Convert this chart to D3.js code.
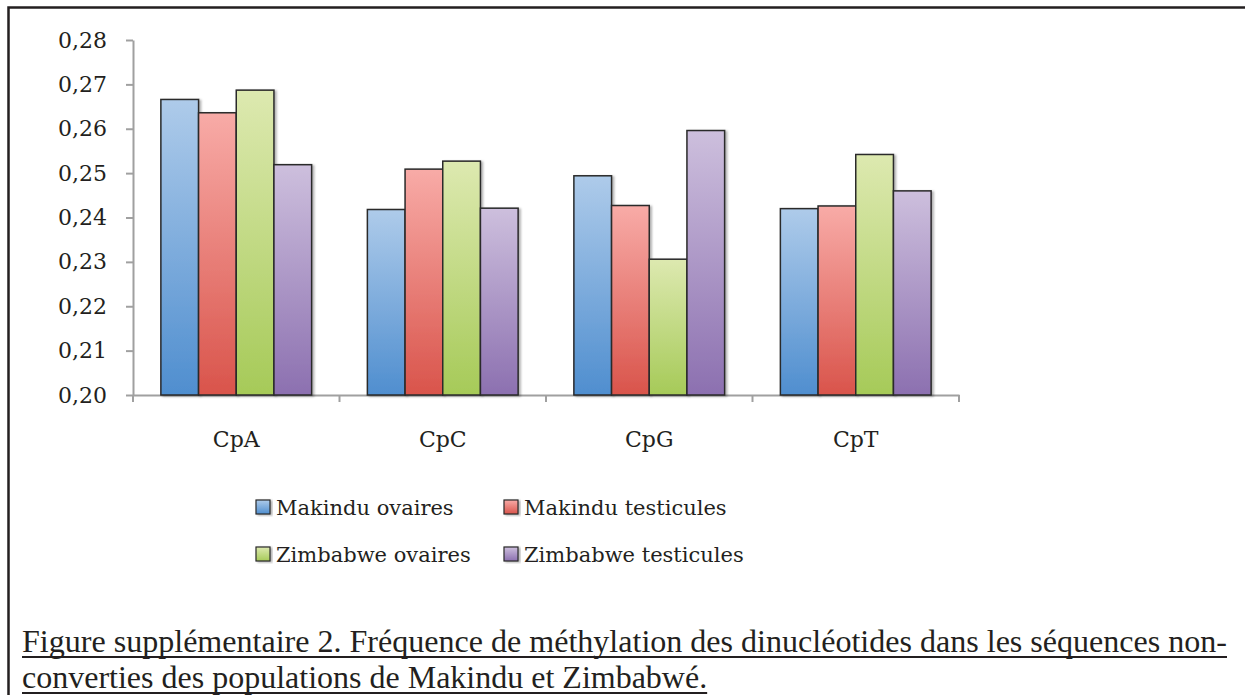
<!DOCTYPE html>
<html>
<head>
<meta charset="utf-8">
<script src="https://cdn.jsdelivr.net/npm/d3@7"></script>
<style>
  html, body { margin: 0; padding: 0; background: #fff; }
  svg { display: block; }
</style>
</head>
<body>
<svg id="chart" width="1245" height="695"></svg>
<script>
// Dinucleotide categories and the four population/tissue series
const categories = ["CpA", "CpC", "CpG", "CpT"];
const seriesNames = ["Makindu ovaires", "Makindu testicules", "Zimbabwe ovaires", "Zimbabwe testicules"];
const makinduOvaires     = [0.2666, 0.2418, 0.2494, 0.2420];
const makinduTesticules  = [0.2636, 0.2509, 0.2427, 0.2426];
const zimbabweOvaires    = [0.2687, 0.2527, 0.2306, 0.2542];
const zimbabweTesticules = [0.2519, 0.2421, 0.2596, 0.2460];
const yTicks = [0.20, 0.21, 0.22, 0.23, 0.24, 0.25, 0.26, 0.27, 0.28];
const captionLines = [
  "Figure supplémentaire 2. Fréquence de méthylation des dinucléotides dans les séquences non-",
  "converties des populations de Makindu et Zimbabwé."
];

const seriesValues = [makinduOvaires, makinduTesticules, zimbabweOvaires, zimbabweTesticules];
const gradients = [
  ["#aecbea", "#4f8ecf"],
  ["#f8aba7", "#d9544b"],
  ["#dde9b0", "#a6ca58"],
  ["#cdbfdd", "#8c70b0"]
];

const svg = d3.select("#chart");
const defs = svg.append("defs");

gradients.forEach((g, i) => {
  const lg = defs.append("linearGradient")
    .attr("id", "grad" + i).attr("x1", 0).attr("y1", 0).attr("x2", 0).attr("y2", 1);
  lg.append("stop").attr("offset", "0%").attr("stop-color", g[0]);
  lg.append("stop").attr("offset", "100%").attr("stop-color", g[1]);
});

const shadow = defs.append("filter").attr("id", "shadow")
  .attr("x", "-10%").attr("y", "-10%").attr("width", "130%").attr("height", "130%");
shadow.append("feDropShadow").attr("dx", 2).attr("dy", 1).attr("stdDeviation", 1)
  .attr("flood-color", "#000").attr("flood-opacity", 0.3);

// Outer frame
svg.append("rect")
  .attr("x", 8.5).attr("y", 7.5).attr("width", 1260).attr("height", 720)
  .attr("fill", "none").attr("stroke", "#231f20").attr("stroke-width", 2.5);

const x0 = 133, x1 = 959, yTop = 40, yBottom = 395;

const x = d3.scaleBand().domain(categories).range([x0, x1])
  .paddingInner(0.27).paddingOuter(0.135);
const xs = d3.scaleBand().domain(seriesNames).range([0, x.bandwidth()]);
const y = d3.scaleLinear().domain([0.20, 0.28]).range([yBottom, yTop]);

const fr = d3.formatLocale({ decimal: ",", thousands: " ", grouping: [3], currency: ["", " €"] });
const fmt = fr.format(".2f");

// Y axis
const yAxis = svg.append("g").attr("transform", `translate(${x0},0)`)
  .call(d3.axisLeft(y).tickValues(yTicks).tickFormat(fmt).tickSize(7).tickSizeOuter(0).tickPadding(19));
yAxis.select(".domain").attr("stroke", "#a0a0a0").attr("stroke-width", 2);
yAxis.selectAll(".tick line").attr("stroke", "#a0a0a0").attr("stroke-width", 2);
yAxis.selectAll(".tick text")
  .attr("font-family", "DejaVu Serif").attr("font-size", 22).attr("fill", "#231f20");

// X axis baseline with ticks at category boundaries
const xAxis = svg.append("g").attr("transform", `translate(0,${yBottom})`)
  .call(d3.axisBottom(x).tickValues([]).tickSizeOuter(0));
xAxis.select(".domain").attr("stroke", "#a0a0a0").attr("stroke-width", 2);
const step = x.step();
const boundaries = categories.map(c => x(c) - x.paddingInner() * step / 2).concat([x1]);
xAxis.selectAll("line.bound").data(boundaries).join("line")
  .attr("class", "bound")
  .attr("x1", d => d).attr("x2", d => d)
  .attr("y1", 0).attr("y2", 7)
  .attr("stroke", "#a0a0a0").attr("stroke-width", 2);
xAxis.selectAll("text.cat").data(categories).join("text")
  .attr("class", "cat")
  .attr("x", d => x(d) + x.bandwidth() / 2)
  .attr("y", 52)
  .attr("text-anchor", "middle")
  .attr("font-family", "DejaVu Serif").attr("font-size", 22).attr("fill", "#231f20")
  .text(d => d);

// Bars
const barData = [];
categories.forEach((c, ci) => {
  seriesNames.forEach((s, si) => {
    barData.push({ cat: c, series: s, si, value: seriesValues[si][ci] });
  });
});
svg.append("g").selectAll("rect").data(barData).join("rect")
  .attr("x", d => x(d.cat) + xs(d.series))
  .attr("y", d => y(d.value))
  .attr("width", xs.bandwidth())
  .attr("height", d => y(0.20) - y(d.value))
  .attr("fill", d => `url(#grad${d.si})`)
  .attr("stroke", "#2a2a2a").attr("stroke-width", 1.5)
  .attr("filter", "url(#shadow)");

// Legend
const legendPos = [[256, 500], [504, 500], [256, 547], [504, 547]];
const legend = svg.append("g").selectAll("g").data(seriesNames).join("g")
  .attr("transform", (d, i) => `translate(${legendPos[i][0]},${legendPos[i][1]})`);
legend.append("rect")
  .attr("width", 14).attr("height", 14)
  .attr("fill", (d, i) => `url(#grad${i})`)
  .attr("stroke", "#2a2a2a").attr("stroke-width", 1.2)
  .attr("filter", "url(#shadow)");
legend.append("text")
  .attr("x", 20).attr("y", 15)
  .attr("font-family", "DejaVu Serif").attr("font-size", 21).attr("fill", "#231f20")
  .text(d => d);

// Caption, underlined; the first line spans the frame width
const capLeft = 22, capRight = 1227;
const capBaselines = [652, 688];
captionLines.forEach((line, i) => {
  const t = svg.append("text")
    .attr("x", capLeft).attr("y", capBaselines[i])
    .attr("font-family", "Liberation Serif").attr("font-size", 32).attr("fill", "#231f20")
    .text(line);
  if (i === 0) {
    t.attr("textLength", capRight - capLeft).attr("lengthAdjust", "spacingAndGlyphs");
  }
  const w = i === 0 ? capRight - capLeft : t.node().getComputedTextLength();
  svg.append("line")
    .attr("x1", capLeft).attr("x2", capLeft + w)
    .attr("y1", capBaselines[i] + 5).attr("y2", capBaselines[i] + 5)
    .attr("stroke", "#231f20").attr("stroke-width", 2);
});
</script>
</body>
</html>
